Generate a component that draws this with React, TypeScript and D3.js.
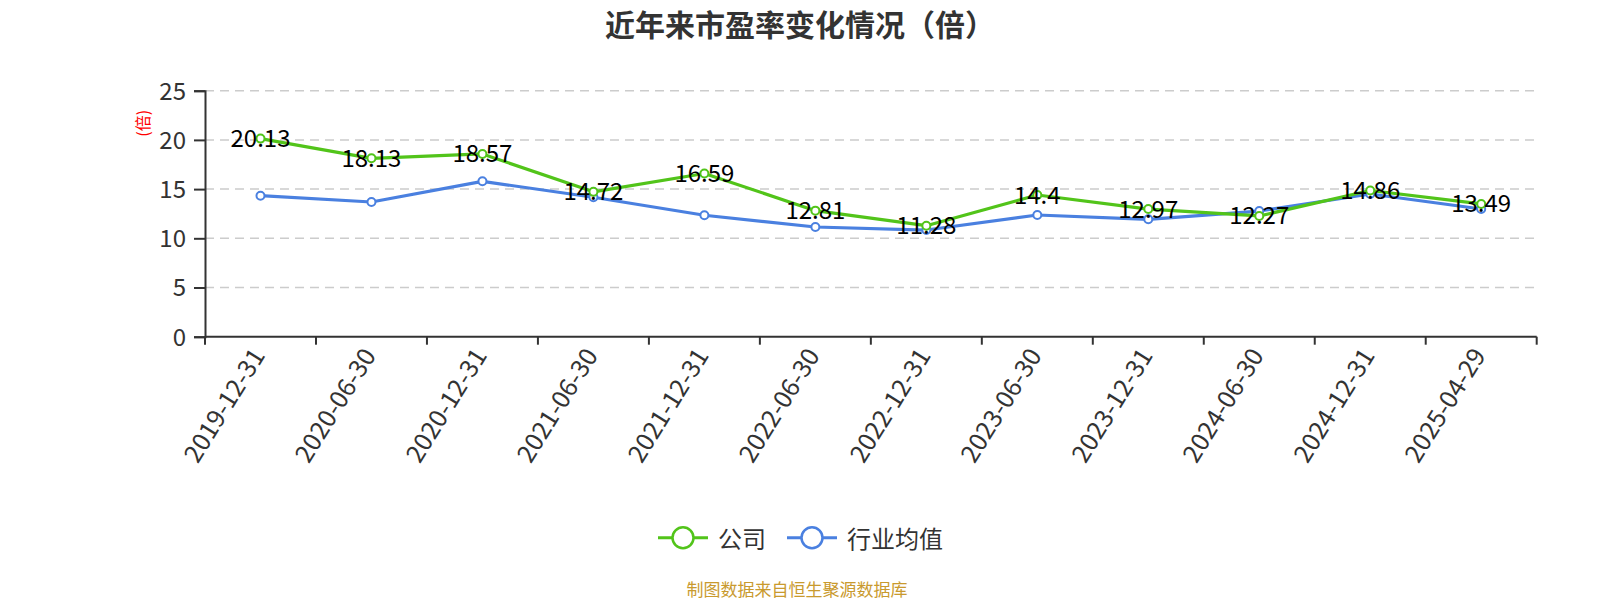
import { useEffect, useRef, FC } from 'react';
import * as d3 from 'd3';

const dates = [
  '2019-12-31',
  '2020-06-30',
  '2020-12-31',
  '2021-06-30',
  '2021-12-31',
  '2022-06-30',
  '2022-12-31',
  '2023-06-30',
  '2023-12-31',
  '2024-06-30',
  '2024-12-31',
  '2025-04-29',
];
const companyPE = [20.13, 18.13, 18.57, 14.72, 16.59, 12.81, 11.28, 14.4, 12.97, 12.27, 14.86, 13.49];
const industryPE = [14.33, 13.69, 15.79, 14.17, 12.34, 11.15, 10.84, 12.37, 11.93, 12.77, 14.5, 12.98];
const yTicks = [0, 5, 10, 15, 20, 25];
const seriesNames = ['公司', '行业均值'];

const GREEN = '#52c41a';
const BLUE = '#4a80e0';
const FONT = '"Noto Sans CJK SC", "Noto Sans", sans-serif';

const PEChart: FC<{ width: number; height: number }> = ({ width, height }) => {
  const ref = useRef<SVGSVGElement>(null);

  useEffect(() => {
    const left = 205;
    const right = 1536.7;
    const top = 90.7;
    const bottom = 336.7;

    const svg = d3.select(ref.current).attr('width', width).attr('height', height);
    svg.selectAll('*').remove();

    const x = d3.scaleBand<string>().domain(dates).range([left, right]).padding(0);
    const cx = (d: string) => (x(d) as number) + x.bandwidth() / 2;
    const y = d3.scaleLinear().domain([0, 25]).range([bottom, top]);

    // title
    svg
      .append('text')
      .attr('x', 800)
      .attr('y', 23)
      .attr('text-anchor', 'middle')
      .attr('dominant-baseline', 'central')
      .style('font', `bold 30px ${FONT}`)
      .attr('fill', '#333')
      .text('近年来市盈率变化情况（倍）');

    // grid
    svg
      .append('g')
      .selectAll('line')
      .data(yTicks.filter((t) => t > 0))
      .join('line')
      .attr('x1', left)
      .attr('x2', right)
      .attr('y1', (d) => y(d))
      .attr('y2', (d) => y(d))
      .attr('stroke', '#ccc')
      .attr('stroke-width', 1.5)
      .attr('stroke-dasharray', '9,6');

    // y axis
    const yAxis = svg.append('g').attr('transform', `translate(${left},0)`);
    yAxis
      .call(d3.axisLeft(y).tickValues(yTicks).tickSize(11).tickPadding(8))
      .call((g) => g.select('.domain').attr('stroke', '#333').attr('stroke-width', 2))
      .call((g) => g.selectAll('.tick line').attr('stroke', '#333').attr('stroke-width', 2))
      .call((g) =>
        g.selectAll('.tick text').attr('fill', '#333').style('font', `24px ${FONT}`).attr('dy', '0.35em')
      );

    svg
      .append('text')
      .attr('transform', `translate(141.7,123.3) rotate(-90)`)
      .attr('text-anchor', 'middle')
      .attr('dominant-baseline', 'central')
      .attr('fill', 'red')
      .style('font', `16px ${FONT}`)
      .text('(倍)');

    // x axis
    const xAxis = svg.append('g').attr('transform', `translate(0,${bottom})`);
    xAxis
      .append('line')
      .attr('x1', left)
      .attr('x2', right)
      .attr('stroke', '#333')
      .attr('stroke-width', 2);
    xAxis
      .selectAll('line.tk')
      .data(d3.range(dates.length + 1))
      .join('line')
      .attr('class', 'tk')
      .attr('x1', (i) => left + i * x.bandwidth())
      .attr('x2', (i) => left + i * x.bandwidth())
      .attr('y1', 0)
      .attr('y2', 8)
      .attr('stroke', '#333')
      .attr('stroke-width', 2);
    xAxis
      .selectAll('text')
      .data(dates)
      .join('text')
      .attr('transform', (d) => `translate(${cx(d) - 4},13) rotate(-58)`)
      .attr('text-anchor', 'end')
      .attr('dominant-baseline', 'central')
      .attr('fill', '#333')
      .style('font', `25px ${FONT}`)
      .text((d) => d);

    // lines
    const series = [
      { name: seriesNames[0], values: companyPE, color: GREEN },
      { name: seriesNames[1], values: industryPE, color: BLUE },
    ];
    const line = d3
      .line<number>()
      .x((_d, i) => cx(dates[i]))
      .y((d) => y(d));

    series
      .slice()
      .reverse()
      .forEach((s) => {
        const g = svg.append('g');
        g.append('path')
          .attr('d', line(s.values))
          .attr('fill', 'none')
          .attr('stroke', s.color)
          .attr('stroke-width', 3.2)
          .attr('stroke-linejoin', 'round');
        g.selectAll('circle')
          .data(s.values)
          .join('circle')
          .attr('cx', (_d, i) => cx(dates[i]))
          .attr('cy', (d) => y(d))
          .attr('r', 4)
          .attr('fill', '#fff')
          .attr('stroke', s.color)
          .attr('stroke-width', 2);
      });

    // data labels for company
    svg
      .append('g')
      .selectAll('text')
      .data(companyPE)
      .join('text')
      .attr('x', (_d, i) => cx(dates[i]))
      .attr('y', (d) => y(d) - 2)
      .attr('text-anchor', 'middle')
      .attr('dominant-baseline', 'central')
      .attr('fill', '#000')
      .style('font', `24px ${FONT}`)
      .text((d) => String(d));

    // legend
    const legend = svg
      .append('g')
      .selectAll('g')
      .data(series)
      .join('g')
      .attr('transform', (_d, i) => `translate(${i === 0 ? 658 : 787},537.7)`);
    legend
      .append('line')
      .attr('x1', 0)
      .attr('x2', 50)
      .attr('stroke', (d) => d.color)
      .attr('stroke-width', 3);
    legend
      .append('circle')
      .attr('cx', 25)
      .attr('r', 10.5)
      .attr('fill', '#fff')
      .attr('stroke', (d) => d.color)
      .attr('stroke-width', 2.5);
    legend
      .append('text')
      .attr('x', 60)
      .attr('dominant-baseline', 'central')
      .attr('fill', '#333')
      .style('font', `24px ${FONT}`)
      .text((d) => d.name);

    // source
    svg
      .append('text')
      .attr('x', 797)
      .attr('y', 588)
      .attr('text-anchor', 'middle')
      .attr('dominant-baseline', 'central')
      .attr('fill', '#c99a2e')
      .style('font', `17px ${FONT}`)
      .text('制图数据来自恒生聚源数据库');
  }, [width, height]);

  return (
    <svg
      ref={ref}
      style={{ position: 'absolute', left: 0, top: 0, background: '#fff' }}
    ></svg>
  );
};

export default function App() {
  return <PEChart width={1600} height={600} />;
}
